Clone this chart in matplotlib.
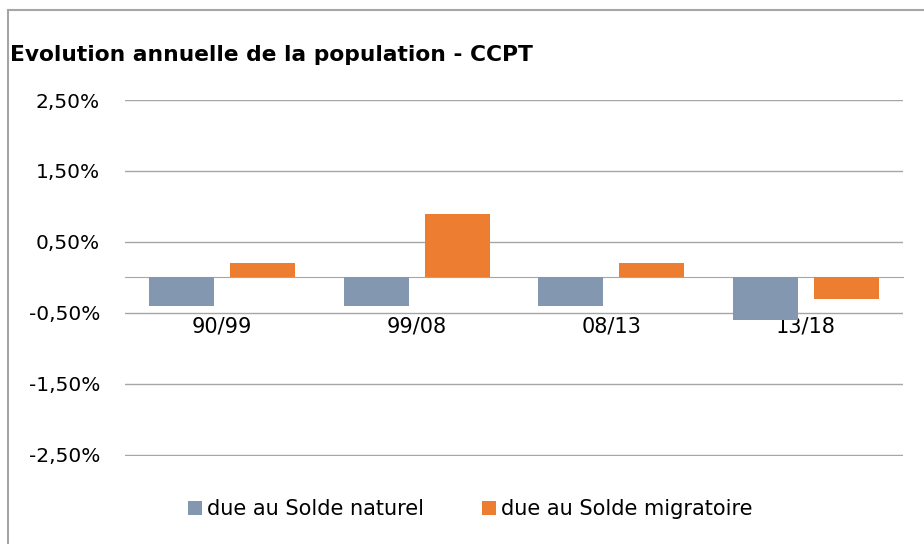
import numpy as np
import matplotlib.pyplot as plt
from matplotlib.lines import Line2D

periods = ['90/99', '99/08', '08/13', '13/18']
naturel = [-0.4, -0.4, -0.4, -0.6]
migratoire = [0.2, 0.9, 0.2, -0.3]
yticks = [-2.5, -1.5, -0.5, 0.5, 1.5, 2.5]

plt.rcParams['font.family'] = ['DejaVu Sans']

fig = plt.figure(figsize=(9.24, 5.44), dpi=100)
ax = fig.add_axes([125/924, 87.6/544, 778/924, 356.4/544])

x = np.arange(len(periods))
w = 0.333
ax.bar(x - 0.208, naturel, w, color='#8497B0', label='due au Solde naturel', zorder=3)
ax.bar(x + 0.208, migratoire, w, color='#ED7D31', label='due au Solde migratoire', zorder=3)

for s in ['left', 'right', 'top']:
    ax.spines[s].set_visible(False)
ax.spines['bottom'].set_position(('data', 0))
ax.spines['bottom'].set_color('#A6A6A6')

ax.set_xlim(-0.5, 3.5)
ax.set_ylim(-2.52, 2.5)
ax.set_yticks(yticks)
ax.set_yticklabels([('%.2f%%' % v).replace('.', ',') for v in yticks])
ax.set_xticks(x)
ax.set_xticklabels(periods)
ax.grid(axis='y', color='#A6A6A6', lw=1, zorder=0)
ax.tick_params(axis='y', length=0, pad=18, labelsize=14.5)
ax.tick_params(axis='x', length=0, pad=28, labelsize=15)

fig.text(10/924, 1 - 60.7/544, 'Evolution annuelle de la population - CCPT',
         fontsize=15.7, fontweight='bold', va='baseline', ha='left')

fig.legend(loc='center', bbox_to_anchor=(0.509, 35/544), ncol=2, frameon=False,
           fontsize=15, handlelength=0.65, handleheight=0.65, handletextpad=0.25,
           columnspacing=2.8)

# chart frame (left and top edges)
fig.add_artist(Line2D([8/924, 8/924], [0, 1 - 10/544], color='#A6A6A6', lw=1.5,
                      transform=fig.transFigure))
fig.add_artist(Line2D([8/924, 923/924], [1 - 10/544, 1 - 10/544], color='#A6A6A6',
                      lw=1.5, transform=fig.transFigure))

fig.savefig('out.png', dpi=100)
